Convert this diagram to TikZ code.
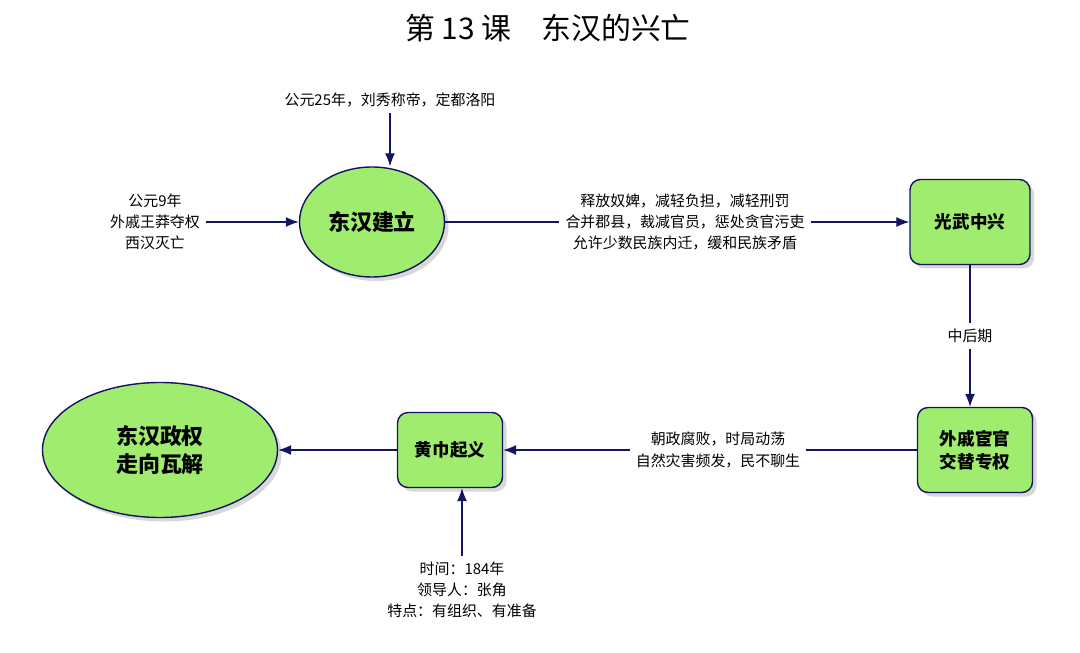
\documentclass[tikz,border=0pt]{standalone}
\usepackage{fontspec}
\setmainfont{Noto Sans CJK SC}
\usetikzlibrary{positioning,shapes.geometric,arrows.meta,shadows}
\definecolor{boxgreen}{RGB}{160,236,110}
\definecolor{linenavy}{RGB}{20,20,100}
\tikzset{
  oval/.style={ellipse,draw=linenavy,fill=boxgreen,thick,font=\fontsize{12.5}{16}\selectfont\bfseries,
    align=center,drop shadow={shadow xshift=0.08cm,shadow yshift=-0.08cm,fill=gray!60}},
  stage/.style={rectangle,rounded corners=6pt,draw=linenavy,fill=boxgreen,thick,
    font=\fontsize{10}{13}\selectfont\bfseries,align=center,
    drop shadow={shadow xshift=0.08cm,shadow yshift=-0.08cm,fill=gray!60}},
  note/.style={font=\fontsize{8.5}{12}\selectfont,align=center},
  flow/.style={draw=linenavy,-{Latex[length=2.6mm,width=2mm]},semithick}
}
\begin{document}
\begin{tikzpicture}
\useasboundingbox (0,0) rectangle (21.6,-13.06);
% title
\node (title) at (10.96,-0.56) {\fontsize{17}{20}\selectfont 第 13 课\quad 东汉的兴亡};
% nodes
\node[oval,minimum width=2.9cm,minimum height=2.2cm] (found) at (7.44,-4.44) {东汉建立};
\node[stage,minimum width=2.4cm,minimum height=1.7cm] (revive) at (19.4,-4.44) {光武中兴};
\node[stage,minimum width=2.3cm,minimum height=1.7cm] (power) at (19.5,-9.0) {外戚宦官\\交替专权};
\node[stage,minimum width=2.1cm,minimum height=1.5cm] (revolt) at (9.0,-9.0) {黄巾起义};
\node[oval,minimum width=4.7cm,minimum height=2.7cm] (fall) at (3.2,-9.0) {东汉政权\\走向瓦解};
% notes
\node[note] (start) at (7.8,-2.0) {公元25年，刘秀称帝，定都洛阳};
\node[note] (west) at (3.1,-4.44) {公元9年\\外戚王莽夺权\\西汉灭亡};
\node[note] (policy) at (13.7,-4.44) {释放奴婢，减轻负担，减轻刑罚\\合并郡县，裁减官员，惩处贪官污吏\\允许少数民族内迁，缓和民族矛盾};
\node[note] (cause) at (14.36,-9.0) {朝政腐败，时局动荡\\自然灾害频发，民不聊生};
\node[note] (facts) at (9.24,-11.8) {时间：184年\\领导人：张角\\特点：有组织、有准备};
% connectors
\draw[flow] (start) -- (start |- found.north);
\draw[flow] (west) -- (found);
\draw[draw=linenavy,semithick] (found) -- (policy);
\draw[flow] (policy) -- (revive);
\draw[flow] (revive) -- node[fill=white,note] {中后期} (revive |- power.north);
\draw[draw=linenavy,semithick] (power) -- (cause);
\draw[flow] (cause) -- (revolt);
\draw[flow] (revolt) -- (fall);
\draw[flow] (facts) -- (facts |- revolt.south);
\end{tikzpicture}
\end{document}
